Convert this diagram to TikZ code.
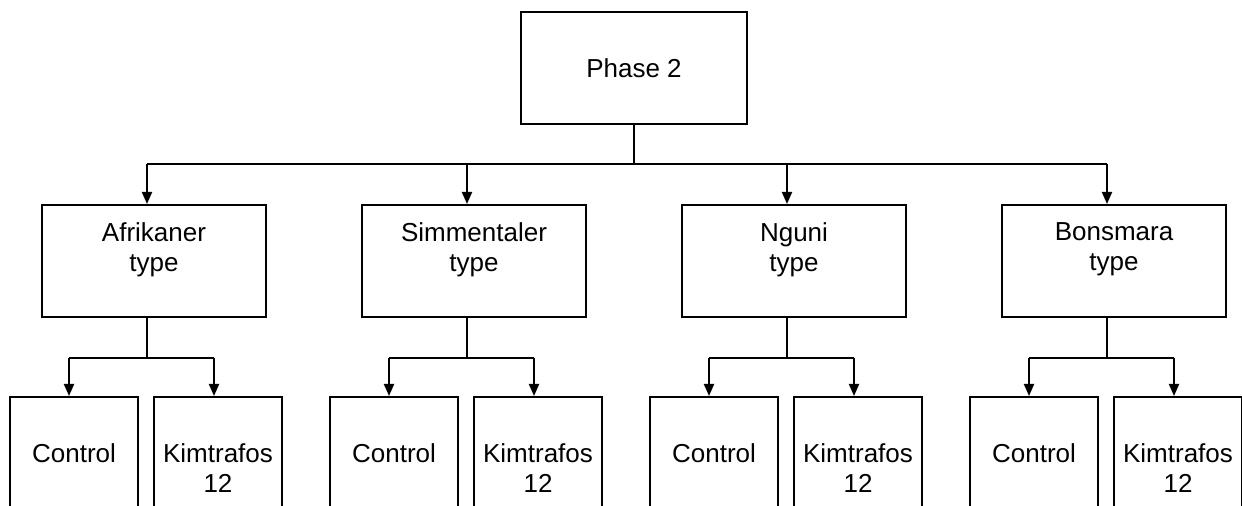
\documentclass[tikz,border=0pt]{standalone}
\usepackage{fontspec}
\setmainfont{Liberation Sans}
\usetikzlibrary{arrows.meta,positioning}

\tikzset{
    box/.style={draw, line width=1pt, inner sep=0pt},
    phasebox/.style={box, minimum width=113pt, minimum height=56pt},
    typebox/.style={box, minimum width=112pt, minimum height=56pt},
    groupbox/.style={box, minimum width=64pt, minimum height=80pt},
    txt/.style={font=\fontsize{13}{15}\selectfont, align=center, inner sep=0pt},
    link/.style={line width=1pt},
    arr/.style={link, -{Triangle[length=6pt,width=5pt]}}
}

\begin{document}
\begin{tikzpicture}[x=0.5pt, y=-0.5pt]
    \useasboundingbox (0,0) rectangle (1242,506);
    \clip (0,0) rectangle (1242,506);

    % top
    \node[phasebox] (phase) at (634,68) {};
    \node[txt] (phasetxt) at (phase) {Phase 2};
    \coordinate (bus) at (634,164);
    \draw[link] (phase.south) -- (bus);
    \draw[link] (147,164) -- (1107,164);

    % breeds and their two groups
    \foreach \i/\name/\lbl in {0/afr/Afrikaner, 1/sim/Simmentaler, 2/ngu/Nguni, 3/bon/Bonsmara} {
        \pgfmathsetmacro{\s}{147+320*\i}
        \coordinate (\name top) at (\s,164);
        \node[typebox, anchor=north] (\name) at (\s+7,204) {};
        \node[txt, anchor=north] (\name txt) at (\s+7,222) {\lbl\\type};
        \draw[arr] (\name top) -- (\s,204);
        % split
        \coordinate (\name mid) at (\s,358);
        \coordinate (\name l) at (\s-78,358);
        \coordinate (\name r) at (\s+67,358);
        \draw[link] (\s,317) -- (\name mid);
        \draw[link] (\name l) -- (\name r);
        \node[groupbox, anchor=north] (\name ctl) at (\s-73,396) {};
        \node[groupbox, anchor=north] (\name kim) at (\s+71,396) {};
        \draw[arr] (\name l) -- (\name ctl.north -| \name l);
        \draw[arr] (\name r) -- (\name kim.north -| \name r);
        \node[txt, anchor=north] (\name ctltxt) at (\s-73,443) {Control};
        \node[txt, anchor=north] (\name kimtxt) at (\s+71,443) {Kimtrafos\\12};
    }
\end{tikzpicture}
\end{document}
